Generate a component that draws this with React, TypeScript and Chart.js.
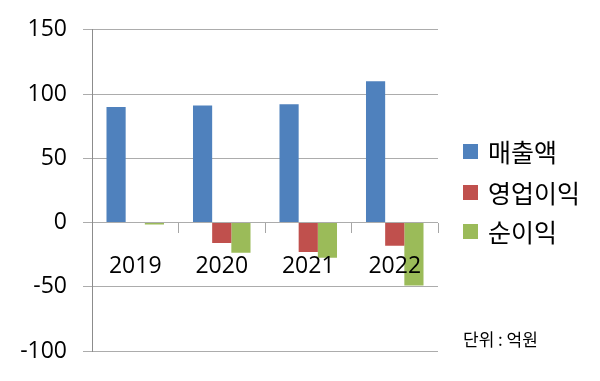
import React, { useEffect, useRef } from "react";
import { Chart, registerables } from "chart.js";

Chart.register(...registerables);

const categories = ["2019", "2020", "2021", "2022"];
const seriesNames = ["매출액", "영업이익", "순이익"];
const sales = [90, 91, 92, 110];
const operatingProfit = [0, -16, -23, -18];
const netProfit = [-1.5, -23.5, -27.5, -49];
const seriesColors = ["#4F81BD", "#C0504D", "#9BBB59"];
const yMin = -100;
const yMax = 150;
const yStep = 50;
const unitNote = "단위 : 억원";

const FONT = "'Open Sans', 'Noto Sans CJK KR', sans-serif";
const KFONT = "'Noto Sans CJK KR', 'Open Sans', sans-serif";

const legendPlugin = {
  id: "customLegend",
  afterDraw(chart: any) {
    const ctx = chart.ctx;
    ctx.save();
    const x0 = 463;
    const ys = [152, 193, 232];
    chart.data.datasets.forEach((ds: any, i: number) => {
      const y = ys[i];
      ctx.fillStyle = ds.backgroundColor;
      ctx.fillRect(x0, y - 8, 15, 15);
      ctx.fillStyle = "#000";
      ctx.font = `25px ${KFONT}`;
      ctx.textBaseline = "middle";
      ctx.textAlign = "left";
      ctx.fillText(ds.label, x0 + 25, y);
    });
    ctx.font = `17px ${KFONT}`;
    ctx.fillStyle = "#000";
    ctx.textBaseline = "middle";
    ctx.fillText(unitNote, 463, 340);
    ctx.restore();
  },
};

export default function App() {
  const ref = useRef<HTMLCanvasElement>(null);
  useEffect(() => {
    if (!ref.current) return;
    const data = [sales, operatingProfit, netProfit];
    const chart = new Chart(ref.current, {
      type: "bar",
      data: {
        labels: categories,
        datasets: seriesNames.map((name, i) => ({
          label: name,
          data: data[i],
          backgroundColor: seriesColors[i],
          borderWidth: 0,
          categoryPercentage: 0.665,
          barPercentage: 1,
        })),
      },
      options: {
        animation: false,
        responsive: false,
        maintainAspectRatio: false,
        layout: { padding: { top: 29, right: 162, bottom: 30, left: 0 } },
        plugins: { legend: { display: false }, tooltip: { enabled: false } },
        scales: {
          x: {
            position: { y: 0 } as any,
            offset: true,
            grid: {
              offset: true,
              drawOnChartArea: false,
              drawTicks: true,
              tickLength: 10,
              color: "#a6a6a6",
            },
            border: { display: false },
            ticks: {
              z: 1,
              color: "#000",
              font: { family: FONT, size: 23 },
              padding: 20,
              maxRotation: 0,
            },
          },
          y: {
            min: yMin,
            max: yMax,
            afterFit: (scale: any) => {
              scale.width = 92;
            },
            ticks: {
              stepSize: yStep,
              color: "#000",
              font: { family: FONT, size: 23 },
              padding: 16,
            },
            grid: {
              color: "#acacac",
              tickLength: 9,
              lineWidth: 1,
            },
            border: { display: true, color: "#8c8c8c", width: 1 },
          },
        },
      },
      plugins: [legendPlugin],
    });
    return () => chart.destroy();
  }, []);
  return (
    <div style={{ position: "fixed", left: 0, top: 0, width: 600, height: 381, background: "#fff" }}>
      <canvas ref={ref} width={600} height={381} style={{ width: 600, height: 381 }} />
    </div>
  );
}
